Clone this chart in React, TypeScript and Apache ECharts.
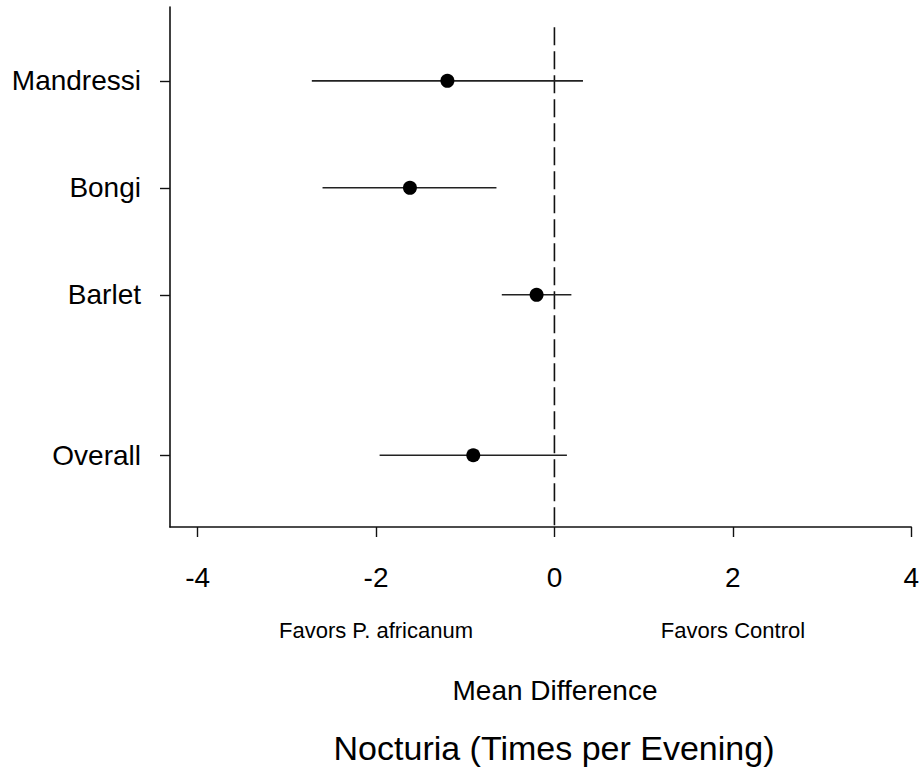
import React, { useEffect, useRef } from "react";
import * as echarts from "echarts";

const studies = ["Mandressi", "Bongi", "Barlet", "Overall"];
const rowPos = [4, 3, 2, 0.5];
const meanDiff = [-1.2, -1.62, -0.2, -0.91];
const ciLow = [-2.72, -2.6, -0.59, -1.96];
const ciHigh = [0.32, -0.65, 0.19, 0.14];
const xTicks = [-4, -2, 0, 2, 4];
const favorLabels = ["Favors P. africanum", "Favors Control"];
const axisTitle = "Mean Difference";
const chartTitle = "Nocturia (Times per Evening)";

const FONT = "'Liberation Sans', Arial, Helvetica, sans-serif";

export default function App() {
  const ref = useRef<HTMLDivElement>(null);
  useEffect(() => {
    if (!ref.current) return;
    const chart = echarts.init(ref.current, null, { renderer: "svg" });
    const yMin = -0.17;
    const yMax = 4.69;
    const ciData = studies.map((s, i) => [ciLow[i], ciHigh[i], rowPos[i]]);
    const meanData = studies.map((s, i) => [meanDiff[i], rowPos[i]]);
    chart.setOption({
      animation: false,
      backgroundColor: "#ffffff",
      grid: { left: 170, right: 9, top: 7, bottom: 243, containLabel: false },
      xAxis: {
        type: "value",
        min: -4.31,
        max: 4,
        axisLine: { show: true, onZero: false, lineStyle: { color: "#111", width: 1.6 } },
        axisTick: {
          show: true,
          customValues: xTicks,
          length: 10,
          lineStyle: { color: "#111", width: 1.4 },
        },
        axisLabel: {
          customValues: xTicks,
          margin: 36,
          fontSize: 28,
          color: "#000",
          fontFamily: FONT,
        },
        splitLine: { show: false },
      },
      yAxis: {
        type: "value",
        min: yMin,
        max: yMax,
        axisLine: { show: true, onZero: false, lineStyle: { color: "#111", width: 1.6 } },
        axisTick: {
          show: true,
          customValues: rowPos,
          length: 10,
          lineStyle: { color: "#111", width: 1.4 },
        },
        axisLabel: {
          customValues: rowPos,
          margin: 29,
          fontSize: 28,
          color: "#000",
          fontFamily: FONT,
          formatter: (v: number) => {
            const idx = rowPos.indexOf(v);
            return idx >= 0 ? studies[idx] : "";
          },
        },
        splitLine: { show: false },
      },
      graphic: [
        {
          type: "text",
          x: 376,
          y: 630,
          style: {
            text: favorLabels[0],
            fontSize: 22,
            fontFamily: FONT,
            fill: "#000",
            align: "center",
            verticalAlign: "middle",
          },
        },
        {
          type: "text",
          x: 733,
          y: 630,
          style: {
            text: favorLabels[1],
            fontSize: 22,
            fontFamily: FONT,
            fill: "#000",
            align: "center",
            verticalAlign: "middle",
          },
        },
        {
          type: "text",
          x: 555,
          y: 690,
          style: {
            text: axisTitle,
            fontSize: 28,
            fontFamily: FONT,
            fill: "#000",
            align: "center",
            verticalAlign: "middle",
          },
        },
        {
          type: "text",
          x: 554,
          y: 748,
          style: {
            text: chartTitle,
            fontSize: 34,
            fontFamily: FONT,
            fill: "#000",
            align: "center",
            verticalAlign: "middle",
          },
        },
      ],
      series: [
        {
          type: "line",
          data: [
            [0, 4.5],
            [0, yMin],
          ],
          symbol: "none",
          lineStyle: { color: "#111", width: 1.6, type: [18, 6] },
          z: 1,
        },
        {
          type: "custom",
          data: ciData,
          encode: { x: [0, 1], y: 2 },
          renderItem: (params: any, api: any) => {
            const p1 = api.coord([api.value(0), api.value(2)]);
            const p2 = api.coord([api.value(1), api.value(2)]);
            return {
              type: "line",
              shape: { x1: p1[0], y1: p1[1], x2: p2[0], y2: p2[1] },
              style: { stroke: "#222", lineWidth: 1.6 },
            };
          },
          z: 2,
        },
        {
          type: "scatter",
          data: meanData,
          symbol: "circle",
          symbolSize: 14,
          itemStyle: { color: "#000", opacity: 1 },
          z: 3,
        },
      ],
    });
    return () => chart.dispose();
  }, []);
  return (
    <div
      ref={ref}
      style={{ position: "fixed", left: 0, top: 0, width: 922, height: 770, background: "#fff" }}
    />
  );
}
